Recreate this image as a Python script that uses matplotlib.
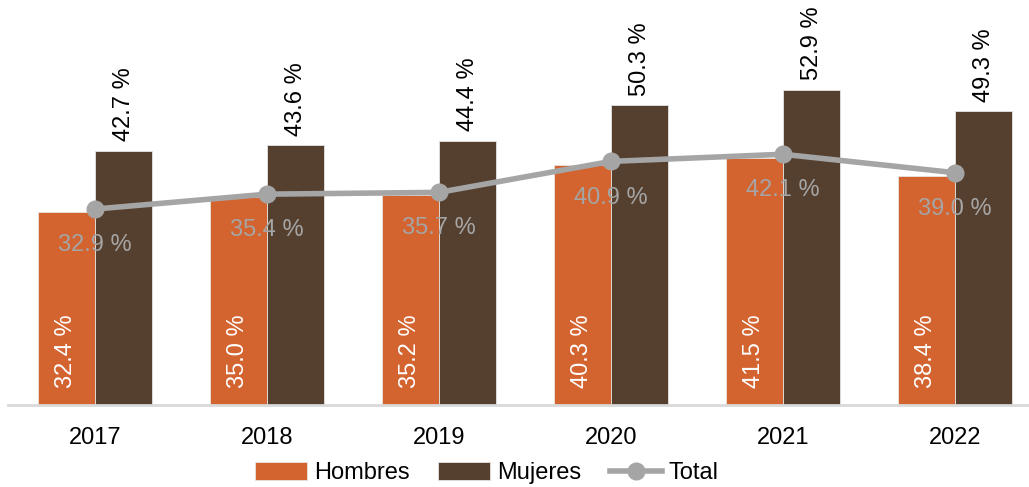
import numpy as np
import matplotlib.pyplot as plt

plt.rcParams['font.family'] = ['Liberation Sans', 'DejaVu Sans']

years = ['2017', '2018', '2019', '2020', '2021', '2022']
hombres = [32.4, 35.0, 35.2, 40.3, 41.5, 38.4]
mujeres = [42.7, 43.6, 44.4, 50.3, 52.9, 49.3]
total = [32.9, 35.4, 35.7, 40.9, 42.1, 39.0]

c_h = '#D3632F'
c_m = '#55402F'
c_t = '#A5A5A5'

fig = plt.figure(figsize=(10.29, 4.87), dpi=100)
ax = fig.add_axes([8 / 1029, 1 - 405 / 487, 1 - 8 / 1029, 405 / 487])

x = np.arange(len(years))
w = 0.333
bh = ax.bar(x - w / 2, hombres, w, color=c_h, edgecolor='#E8E4E0', linewidth=0.6, label='Hombres', zorder=2)
bm = ax.bar(x + w / 2, mujeres, w, color=c_m, edgecolor='#E8E4E0', linewidth=0.6, label='Mujeres', zorder=2)
lt, = ax.plot(x, total, color=c_t, lw=4, marker='o', ms=12, label='Total', zorder=3)

for xi, v in zip(x, hombres):
    ax.annotate(f'{v:.1f} %', (xi - w / 2, 0), xytext=(0, 12), textcoords='offset points',
                rotation=90, ha='center', va='bottom', color='white', fontsize=17, zorder=4)
for xi, v in zip(x, mujeres):
    ax.annotate(f'{v:.1f} %', (xi + w / 2, v), xytext=(0, 7), textcoords='offset points',
                rotation=90, ha='center', va='bottom', color='black', fontsize=17, zorder=4,
                annotation_clip=False)
for xi, v in zip(x, total):
    ax.annotate(f'{v:.1f} %', (xi, v), xytext=(0, -26), textcoords='offset points',
                ha='center', va='center', color=c_t, fontsize=17, zorder=4)

ax.set_xlim(-0.506, 5.43)
ax.set_ylim(0, 68)
ax.set_yticks([])
ax.set_xticks(x)
ax.set_xticklabels(years, fontsize=17)
ax.tick_params(axis='x', length=0, pad=16)
for s in ['top', 'right', 'left']:
    ax.spines[s].set_visible(False)
ax.spines['bottom'].set_color('#D9D9D9')
ax.spines['bottom'].set_linewidth(2)

fig.legend([bh, bm, lt], ['Hombres', 'Mujeres', 'Total'], loc='center',
           bbox_to_anchor=(487 / 1029, 1 - 473 / 487), ncol=3, frameon=False,
           fontsize=17, handlelength=2.2, handletextpad=0.3, columnspacing=1.2, handleheight=0.8)

fig.savefig('out.png', dpi=100)
